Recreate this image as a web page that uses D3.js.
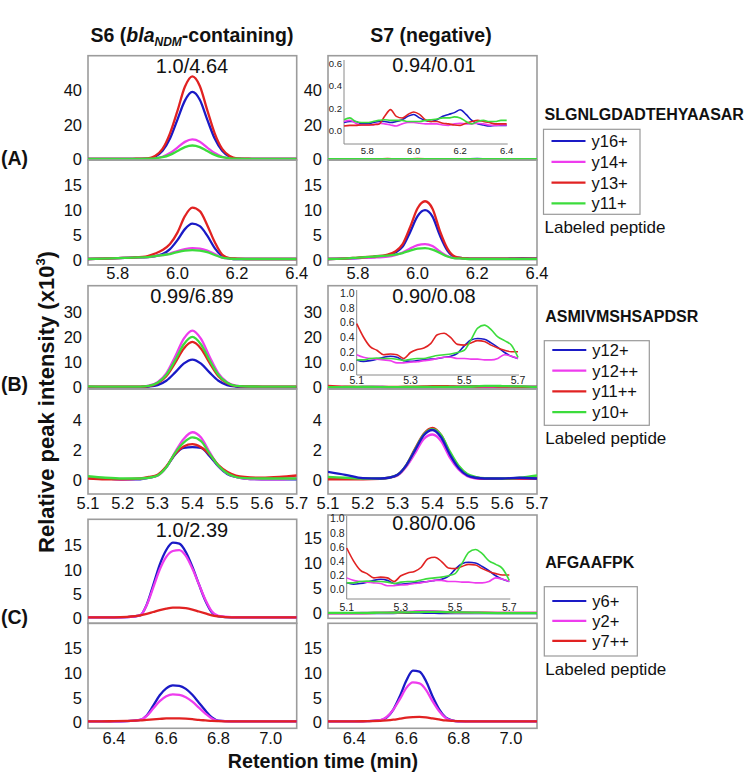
<!DOCTYPE html>
<html><head><meta charset="utf-8">
<script src="https://cdn.jsdelivr.net/npm/d3@7"></script>
<style>body{margin:0;background:#fff;} svg{display:block;font-family:"Liberation Sans",Arial,sans-serif;}</style>
</head><body><svg id="c" width="750" height="780"></svg>
<script>
// ---------------- DATA ----------------
// Row A : SLGNLGDADTEHYAASAR
const xA = [5.70,5.75,5.80,5.85,5.90,5.925,5.95,5.975,6.00,6.025,6.05,6.075,6.10,6.125,6.15,6.175,6.20,6.25,6.30,6.35,6.40];
const aS6TopY16 = [0.2,0.2,0.2,0.2,0.4,1.5,4.9,12,23,34,39,34.5,23,12,4.9,1.5,0.4,0.2,0.2,0.2,0.2];
const aS6TopY14 = [0.2,0.2,0.2,0.2,0.3,0.6,1.5,3.6,6.8,10.1,11.5,10.2,6.8,3.6,1.5,0.6,0.3,0.2,0.2,0.2,0.2];
const aS6TopY13 = [0.2,0.2,0.2,0.3,0.5,1.9,6,15,28,42,48,42.5,28.5,15,6,1.9,0.5,0.3,0.2,0.2,0.2];
const aS6TopY11 = [0.3,0.3,0.3,0.3,0.4,0.6,1.2,2.6,4.8,7.1,8,7.1,4.8,2.6,1.2,0.6,0.4,0.3,0.3,0.3,0.3];
const aS6LabY16 = [0.2,0.3,0.4,0.5,0.6,0.8,1.2,2.2,4.0,6.2,7.3,6.8,4.9,2.4,0.8,0.3,0.2,0.2,0.2,0.2,0.2];
const aS6LabY14 = [0.2,0.3,0.4,0.5,0.6,0.8,1.0,1.3,1.8,2.2,2.4,2.3,1.9,1.2,0.5,0.3,0.2,0.2,0.2,0.2,0.2];
const aS6LabY13 = [0.2,0.3,0.4,0.5,0.8,1.3,2.0,3.2,5.5,8.8,10.5,9.8,7.0,3.6,1.1,0.4,0.3,0.2,0.2,0.2,0.2];
const aS6LabY11 = [0.2,0.3,0.4,0.5,0.6,0.8,1.0,1.2,1.6,1.9,2.0,1.9,1.6,1.0,0.5,0.3,0.2,0.2,0.2,0.2,0.2];
const aS7LabY16 = [0.2,0.3,0.4,0.6,0.9,1.5,2.7,5.6,8.8,10.0,8.7,4.9,1.9,0.6,0.4,0.3,0.3,0.3,0.3,0.4,0.3];
const aS7LabY14 = [0.2,0.3,0.4,0.5,0.7,1.0,1.5,2.3,3.0,3.2,2.8,1.7,0.8,0.4,0.3,0.2,0.2,0.2,0.2,0.2,0.2];
const aS7LabY13 = [0.2,0.3,0.5,0.7,1.1,1.7,3.2,6.6,10.4,11.8,10.3,5.8,2.3,0.7,0.4,0.3,0.3,0.3,0.3,0.3,0.3];
const aS7LabY11 = [0.2,0.3,0.5,0.7,0.9,1.1,1.4,1.9,2.3,2.4,2.1,1.4,0.7,0.35,0.3,0.2,0.2,0.2,0.2,0.2,0.2];
// S7 native (inset A, also the flat traces of the main panel)
const xAi = [5.700,5.725,5.750,5.775,5.800,5.825,5.850,5.875,5.900,5.925,5.950,5.975,6.000,6.025,6.050,6.075,6.100,6.125,6.150,6.175,6.200,6.225,6.250,6.275,6.300,6.325,6.350,6.375,6.400];
const aS7TopY16 = [0.075,0.084,0.084,0.063,0.063,0.075,0.084,0.084,0.075,0.084,0.1,0.131,0.147,0.116,0.094,0.084,0.1,0.131,0.147,0.163,0.188,0.147,0.094,0.063,0.053,0.044,0.05,0.05,0.05];
const aS7TopY14 = [0.084,0.094,0.069,0.053,0.053,0.053,0.069,0.063,0.053,0.044,0.063,0.075,0.075,0.069,0.063,0.063,0.063,0.053,0.05,0.063,0.069,0.063,0.063,0.069,0.063,0.053,0.05,0.053,0.053];
const aS7TopY13 = [0.044,0.05,0.05,0.053,0.053,0.056,0.06,0.13,0.19,0.13,0.115,0.147,0.169,0.147,0.1,0.084,0.084,0.069,0.063,0.053,0.05,0.069,0.084,0.094,0.084,0.075,0.063,0.063,0.063];
const aS7TopY11 = [0.1,0.116,0.084,0.075,0.075,0.084,0.094,0.1,0.094,0.094,0.094,0.084,0.084,0.084,0.094,0.1,0.106,0.116,0.116,0.125,0.116,0.084,0.063,0.084,0.094,0.084,0.084,0.094,0.094];

// Row B : ASMIVMSHSAPDSR
const xB = [5.10,5.15,5.20,5.25,5.275,5.30,5.325,5.35,5.375,5.40,5.425,5.45,5.475,5.50,5.525,5.55,5.60,5.65,5.70];
const bS6TopY12 = [0.1,0.1,0.1,0.1,0.3,0.9,2.6,5.8,9.4,11,9.4,5.8,2.6,0.9,0.3,0.1,0.1,0.1,0.1];
const bS6TopY12pp = [0.3,0.3,0.3,0.3,0.7,2.0,5.5,12,19.2,22.5,19.2,12,5.5,2.0,0.7,0.4,0.3,0.3,0.3];
const bS6TopY11pp = [0.3,0.3,0.3,0.3,0.5,1.6,4.4,9.6,15.3,18,15.3,9.6,4.4,1.6,0.5,0.4,0.3,0.3,0.3];
const bS6TopY10 = [0.4,0.3,0.3,0.3,0.6,1.8,4.9,10.6,17,20,17,10.6,4.9,1.8,0.6,0.4,0.3,0.3,0.3];
const bS6LabY12 = [0.15,0.1,0.05,0.05,0.15,0.3,0.85,1.7,2.15,2.2,2.15,1.6,0.9,0.4,0.2,0.1,0.05,0.05,0.05];
const bS6LabY12pp = [0.15,0.1,0.05,0.08,0.15,0.3,0.85,1.85,2.75,3.2,2.85,1.85,0.95,0.45,0.2,0.1,0.05,0.05,0.1];
const bS6LabY11pp = [0.1,0.05,0.05,0.1,0.2,0.35,0.9,1.75,2.25,2.4,2.2,1.7,1.0,0.55,0.3,0.2,0.15,0.2,0.3];
const bS6LabY10 = [0.25,0.15,0.1,0.1,0.15,0.3,0.85,1.8,2.5,2.85,2.6,1.75,0.95,0.45,0.2,0.12,0.1,0.1,0.1];
const bS7LabY12 = [0.55,0.35,0.12,0.1,0.15,0.35,1.0,2.0,3.0,3.35,2.85,1.7,0.8,0.3,0.15,0.1,0.1,0.15,0.1];
const bS7LabY12pp = [0.15,0.1,0.08,0.08,0.15,0.3,0.9,1.8,2.75,3.05,2.6,1.5,0.7,0.25,0.1,0.08,0.08,0.08,0.08];
const bS7LabY11pp = [0.05,0.05,0.05,0.08,0.15,0.35,1.0,2.1,3.1,3.5,3.0,1.8,0.9,0.35,0.15,0.1,0.08,0.1,0.1];
const bS7LabY10 = [0.2,0.15,0.1,0.1,0.15,0.35,1.0,2.05,3.05,3.4,3.0,1.9,0.95,0.4,0.2,0.12,0.1,0.15,0.3];
// S7 native (insets B and C, flat traces of B main panel)
const xBi = [5.100,5.125,5.150,5.175,5.200,5.225,5.250,5.275,5.300,5.325,5.350,5.375,5.400,5.425,5.450,5.475,5.500,5.525,5.550,5.575,5.600,5.625,5.650,5.675,5.700];
const bS7TopY12 = [0.1,0.08,0.09,0.11,0.135,0.15,0.135,0.09,0.08,0.09,0.1,0.11,0.12,0.135,0.15,0.19,0.29,0.37,0.39,0.38,0.33,0.27,0.2,0.15,0.12];
const bS7TopY12pp = [0.17,0.135,0.12,0.11,0.1,0.09,0.06,0.06,0.07,0.075,0.09,0.1,0.12,0.135,0.135,0.12,0.12,0.11,0.11,0.1,0.1,0.12,0.17,0.15,0.12];
const bS7TopY11pp = [0.59,0.41,0.28,0.23,0.17,0.18,0.17,0.12,0.2,0.24,0.26,0.32,0.44,0.46,0.4,0.31,0.3,0.33,0.36,0.35,0.3,0.26,0.23,0.21,0.21];
const bS7TopY10 = [0.1,0.1,0.12,0.125,0.12,0.12,0.11,0.09,0.11,0.12,0.12,0.14,0.16,0.17,0.18,0.2,0.23,0.37,0.53,0.57,0.51,0.41,0.36,0.3,0.135];

// Row C : AFGAAFPK
const xC = [6.30,6.35,6.40,6.45,6.50,6.525,6.55,6.575,6.60,6.625,6.65,6.675,6.70,6.725,6.75,6.775,6.80,6.85,6.90,7.00,7.10];
const cS6TopY6 = [0.2,0.2,0.2,0.25,0.6,2.8,6.8,11.0,14.0,15.5,15.3,13.6,10.6,7.0,3.6,1.2,0.4,0.2,0.2,0.2,0.2];
const cS6TopY2 = [0.2,0.2,0.2,0.25,0.6,2.7,6.3,10.0,12.6,13.8,14.0,12.8,10.2,7.0,3.8,1.4,0.5,0.25,0.2,0.2,0.2];
const cS6TopY7 = [0.2,0.2,0.2,0.3,0.6,0.9,1.3,1.7,2.0,2.2,2.2,2.1,1.8,1.4,1.0,0.6,0.4,0.2,0.2,0.2,0.2];
const cS6LabY6 = [0.2,0.2,0.2,0.25,0.5,1.4,3.4,5.5,6.9,7.5,7.4,6.8,5.6,4.0,2.4,1.0,0.35,0.2,0.2,0.2,0.2];
const cS6LabY2 = [0.2,0.2,0.2,0.25,0.5,1.3,2.8,4.3,5.3,5.7,5.6,5.1,4.2,3.0,1.8,0.8,0.3,0.2,0.2,0.2,0.2];
const cS6LabY7 = [0.2,0.2,0.25,0.3,0.4,0.5,0.6,0.7,0.8,0.8,0.8,0.75,0.65,0.5,0.4,0.3,0.25,0.2,0.2,0.2,0.2];
const cS7TopY6 = [0.05,0.05,0.05,0.05,0.05,0.05,0.06,0.08,0.1,0.12,0.12,0.1,0.08,0.06,0.05,0.05,0.05,0.05,0.05,0.05,0.05];
const cS7TopY2 = [0.05,0.05,0.05,0.08,0.1,0.12,0.15,0.2,0.28,0.35,0.42,0.45,0.42,0.35,0.28,0.2,0.15,0.12,0.1,0.1,0.1];
const cS7TopY7 = [0.05,0.05,0.05,0.05,0.08,0.1,0.12,0.15,0.2,0.25,0.3,0.32,0.3,0.28,0.25,0.22,0.2,0.15,0.12,0.1,0.1];
const cS7TopOther = [0.1,0.1,0.1,0.1,0.12,0.12,0.15,0.18,0.2,0.22,0.25,0.28,0.3,0.28,0.25,0.2,0.18,0.15,0.1,0.05,0.05];
const cS7LabY6 = [0.2,0.2,0.2,0.25,0.4,1.0,2.6,5.3,8.5,10.5,10.3,8.4,5.3,2.7,1.0,0.4,0.2,0.2,0.2,0.2,0.2];
const cS7LabY2 = [0.2,0.2,0.2,0.25,0.45,1.1,2.6,4.7,7.0,8.1,7.9,6.6,4.3,2.3,0.9,0.35,0.2,0.2,0.2,0.2,0.2];
const cS7LabY7 = [0.2,0.2,0.2,0.25,0.3,0.4,0.55,0.75,0.95,1.05,1.1,1.0,0.8,0.6,0.4,0.3,0.25,0.2,0.2,0.2,0.2];

// labels / ticks
const ratiosA = ["1.0/4.64","0.94/0.01"];
const ratiosB = ["0.99/6.89","0.90/0.08"];
const ratiosC = ["1.0/2.39","0.80/0.06"];
const peptides = ["SLGNLGDADTEHYAASAR","ASMIVMSHSAPDSR","AFGAAFPK"];
const legendA = ["y16+","y14+","y13+","y11+"];
const legendB = ["y12+","y12++","y11++","y10+"];
const legendC = ["y6+","y2+","y7++"];
const xTicksA = [5.8,6.0,6.2,6.4], xTicksB = [5.1,5.2,5.3,5.4,5.5,5.6,5.7], xTicksC = [6.4,6.6,6.8,7.0];
const insetXTicksA = [5.8,6.0,6.2,6.4], insetXTicksB = [5.1,5.3,5.5,5.7];
const insetYTicksA = [0,0.2,0.4,0.6], insetYTicksB = [0,0.2,0.4,0.6,0.8,1.0];

// ---------------- DRAW ----------------
const C = {blue:"#1a1ac6", mag:"#ee3cee", red:"#e12222", green:"#3cdc3c"};
const svg = d3.select("#c");
const col = [{x0:88, x1:296.7}, {x0:328, x1:537}];
const TICKFS = 16.5;
let clipId = 0;

function panel(o){
  const xs = d3.scaleLinear().domain(o.xdom).range([o.x0, o.x1]);
  const ys = d3.scaleLinear().domain(o.ydom).range([o.y1, o.y0]);
  const g = svg.append("g");
  const id = "cl" + (clipId++);
  g.append("clipPath").attr("id", id).append("rect")
    .attr("x", o.x0).attr("y", o.y0 - 1).attr("width", o.x1 - o.x0).attr("height", o.y1 - o.y0 + 1);
  g.append("rect").attr("x", o.x0).attr("y", o.y0).attr("width", o.x1 - o.x0).attr("height", o.y1 - o.y0)
    .attr("fill", "none").attr("stroke", "#9c9c9c").attr("stroke-width", 1.6);
  g.selectAll("text.yt").data(o.yticks).enter().append("text")
    .attr("x", o.x0 - 6).attr("y", d => ys(d) + 6).attr("text-anchor", "end")
    .attr("font-size", TICKFS).attr("fill", "#111").text(d => d);
  const line = d3.line().x(d => xs(d[0])).y(d => ys(d[1])).curve(d3.curveMonotoneX);
  const lg = g.append("g").attr("clip-path", `url(#${id})`);
  o.series.forEach(s => {
    lg.append("path").attr("d", line(o.xs.map((x, i) => [x, s.v[i]])))
      .attr("fill", "none").attr("stroke", s.c).attr("stroke-width", 2.3)
      .attr("stroke-linejoin", "round");
  });
  if (o.xticks) {
    g.selectAll("text.xt").data(o.xticks).enter().append("text")
      .attr("x", d => xs(d)).attr("y", o.y1 + o.xlab).attr("text-anchor", "middle")
      .attr("font-size", TICKFS).attr("fill", "#111").text(d => d3.format(".1f")(d));
  }
  return {xs, ys};
}

function inset(o){
  const xs = d3.scaleLinear().domain(o.xdom).range([o.x0, o.x1]);
  const ys = d3.scaleLinear().domain(o.ydom).range([o.y1, o.y0]);
  const g = svg.append("g");
  g.append("path").attr("d", `M${o.x0},${o.y0}V${o.y1}H${o.x1 + 1}`)
    .attr("fill", "none").attr("stroke", "#8a8a8a").attr("stroke-width", 1);
  g.selectAll("text.iy").data(o.yticks).enter().append("text")
    .attr("x", o.x0 - 2).attr("y", d => ys(d) + 3.5).attr("text-anchor", "end")
    .attr("font-size", o.fs).attr("fill", "#222").text(d => d3.format(".1f")(d));
  g.selectAll("text.ix").data(o.xticks).enter().append("text")
    .attr("x", d => xs(d)).attr("y", o.y1 + o.xlab).attr("text-anchor", "middle")
    .attr("font-size", o.fs).attr("fill", "#222").text(d => d3.format(".1f")(d));
  const line = d3.line().x(d => xs(d[0])).y(d => ys(d[1])).curve(d3.curveMonotoneX);
  o.series.forEach(s => {
    g.append("path").attr("d", line(o.xs.map((x, i) => [x, s.v[i]])))
      .attr("fill", "none").attr("stroke", s.c).attr("stroke-width", 1.6);
  });
}

function legend(o){
  const g = svg.append("g");
  g.append("rect").attr("x", o.x).attr("y", o.y).attr("width", o.w).attr("height", o.h)
    .attr("fill", "none").attr("stroke", "#999").attr("stroke-width", 1.2);
  o.items.forEach((t, i) => {
    const cy = o.cy0 + i * o.dy;
    g.append("line").attr("x1", o.x + 8).attr("x2", o.x + 42).attr("y1", cy).attr("y2", cy)
      .attr("stroke", o.colors[i]).attr("stroke-width", 2.2);
    g.append("text").attr("x", o.x + 48).attr("y", cy + 6).attr("font-size", 16.5).attr("fill", "#111").text(t);
  });
  svg.append("text").attr("x", o.x + 1).attr("y", o.peptY).attr("font-size", 16).attr("font-weight", "bold")
    .attr("fill", "#111").text(o.pept);
  svg.append("text").attr("x", o.x + 1).attr("y", o.labY).attr("font-size", 17).attr("fill", "#111").text("Labeled peptide");
}

// ---- Row A ----
panel({x0:col[0].x0, x1:col[0].x1, y0:55.7, y1:160, xdom:[5.7,6.4], ydom:[-0.4,60], yticks:[0,20,40], xs:xA,
  series:[{v:aS6TopY16,c:C.blue},{v:aS6TopY14,c:C.mag},{v:aS6TopY13,c:C.red},{v:aS6TopY11,c:C.green}]});
panel({x0:col[0].x0, x1:col[0].x1, y0:160, y1:265, xdom:[5.7,6.4], ydom:[-1.0,20.08], yticks:[0,5,10,15], xs:xA,
  series:[{v:aS6LabY16,c:C.blue},{v:aS6LabY14,c:C.mag},{v:aS6LabY13,c:C.red},{v:aS6LabY11,c:C.green}],
  xticks:xTicksA, xlab:14});
panel({x0:col[1].x0, x1:col[1].x1, y0:55.7, y1:160, xdom:[5.7,6.4], ydom:[-0.4,60], yticks:[0,20,40], xs:xAi,
  series:[{v:aS7TopY16,c:C.blue},{v:aS7TopY14,c:C.mag},{v:aS7TopY13,c:C.red},{v:aS7TopY11,c:C.green}]});
panel({x0:col[1].x0, x1:col[1].x1, y0:160, y1:265, xdom:[5.7,6.4], ydom:[-1.0,20.08], yticks:[0,5,10,15], xs:xA,
  series:[{v:aS7LabY16,c:C.blue},{v:aS7LabY14,c:C.mag},{v:aS7LabY13,c:C.red},{v:aS7LabY11,c:C.green}],
  xticks:xTicksA, xlab:14});
inset({x0:344, x1:506.7, y0:60, y1:144, xdom:[5.7,6.4], ydom:[-0.116,0.631], xs:xAi,
  yticks:insetYTicksA, xticks:insetXTicksA, fs:9.5, xlab:10,
  series:[{v:aS7TopY16,c:C.blue},{v:aS7TopY14,c:C.mag},{v:aS7TopY13,c:C.red},{v:aS7TopY11,c:C.green}]});

// ---- Row B ----
panel({x0:col[0].x0, x1:col[0].x1, y0:285.7, y1:389, xdom:[5.1,5.7], ydom:[-0.67,40.3], yticks:[0,10,20,30], xs:xB,
  series:[{v:bS6TopY12,c:C.blue},{v:bS6TopY12pp,c:C.mag},{v:bS6TopY11pp,c:C.red},{v:bS6TopY10,c:C.green}]});
panel({x0:col[0].x0, x1:col[0].x1, y0:389, y1:494, xdom:[5.1,5.7], ydom:[-0.94,6.1], yticks:[0,2,4], xs:xB,
  series:[{v:bS6LabY12,c:C.blue},{v:bS6LabY12pp,c:C.mag},{v:bS6LabY11pp,c:C.red},{v:bS6LabY10,c:C.green}],
  xticks:xTicksB, xlab:15});
panel({x0:col[1].x0, x1:col[1].x1, y0:285.7, y1:389, xdom:[5.1,5.7], ydom:[-0.67,40.3], yticks:[0,10,20,30], xs:xBi,
  series:[{v:bS7TopY12,c:C.blue},{v:bS7TopY12pp,c:C.mag},{v:bS7TopY11pp,c:C.red},{v:bS7TopY10,c:C.green}]});
panel({x0:col[1].x0, x1:col[1].x1, y0:389, y1:494, xdom:[5.1,5.7], ydom:[-0.94,6.1], yticks:[0,2,4], xs:xB,
  series:[{v:bS7LabY12pp,c:C.mag},{v:bS7LabY11pp,c:C.red},{v:bS7LabY10,c:C.green},{v:bS7LabY12,c:C.blue}],
  xticks:xTicksB, xlab:15});
inset({x0:356.7, x1:518, y0:290, y1:375, xdom:[5.1,5.7], ydom:[-0.104,1.045], xs:xBi,
  yticks:insetYTicksB, xticks:insetXTicksB, fs:10.5, xlab:9,
  series:[{v:bS7TopY12,c:C.blue},{v:bS7TopY12pp,c:C.mag},{v:bS7TopY11pp,c:C.red},{v:bS7TopY10,c:C.green}]});

// ---- Row C ----
panel({x0:col[0].x0, x1:col[0].x1, y0:519.3, y1:623.3, xdom:[6.3,7.1], ydom:[-1.02,20.3], yticks:[0,5,10,15], xs:xC,
  series:[{v:cS6TopY6,c:C.blue},{v:cS6TopY2,c:C.mag},{v:cS6TopY7,c:C.red}]});
panel({x0:col[0].x0, x1:col[0].x1, y0:623.3, y1:728.3, xdom:[6.3,7.1], ydom:[-1.2,20.1], yticks:[0,5,10,15], xs:xC,
  series:[{v:cS6LabY6,c:C.blue},{v:cS6LabY2,c:C.mag},{v:cS6LabY7,c:C.red}],
  xticks:xTicksC, xlab:16});
panel({x0:col[1].x0, x1:col[1].x1, y0:515, y1:618.3, xdom:[6.3,7.1], ydom:[-1.0,19.7], yticks:[0,5,10,15], xs:xC,
  series:[{v:cS7TopY6,c:C.blue},{v:cS7TopY7,c:C.red},{v:cS7TopY2,c:C.mag},{v:cS7TopOther,c:C.green}]});
panel({x0:col[1].x0, x1:col[1].x1, y0:623.3, y1:728.3, xdom:[6.3,7.1], ydom:[-1.2,20.1], yticks:[0,5,10,15], xs:xC,
  series:[{v:cS7LabY6,c:C.blue},{v:cS7LabY2,c:C.mag},{v:cS7LabY7,c:C.red}],
  xticks:xTicksC, xlab:16});
inset({x0:346.7, x1:509.3, y0:516, y1:599, xdom:[5.1,5.7], ydom:[-0.127,1.04], xs:xBi,
  yticks:insetYTicksB, xticks:insetXTicksB, fs:10.5, xlab:12,
  series:[{v:bS7TopY12,c:C.blue},{v:bS7TopY12pp,c:C.mag},{v:bS7TopY11pp,c:C.red},{v:bS7TopY10,c:C.green}]});

// ratio annotations
[[ratiosA,[73,72]],[ratiosB,[303,303]],[ratiosC,[537,530]]].forEach(([r, ys]) => {
  svg.append("text").attr("x", 192).attr("y", ys[0]).attr("text-anchor", "middle").attr("font-size", 20).attr("fill", "#111").text(r[0]);
  svg.append("text").attr("x", 434).attr("y", ys[1]).attr("text-anchor", "middle").attr("font-size", 20).attr("fill", "#111").text(r[1]);
});

// legends
legend({x:543.5, y:129.3, w:96.5, h:85, cy0:141, dy:20.8, items:legendA, colors:[C.blue,C.mag,C.red,C.green],
  pept:peptides[0], peptY:120, labY:233});
legend({x:544.3, y:340.7, w:105, h:84.6, cy0:350, dy:20.7, items:legendB, colors:[C.blue,C.mag,C.red,C.green],
  pept:peptides[1], peptY:321.5, labY:443.5});
legend({x:544.3, y:586.7, w:93, h:69.3, cy0:601, dy:19.9, items:legendC, colors:[C.blue,C.mag,C.red],
  pept:peptides[2], peptY:568, labY:675});

// column headers
const h1 = svg.append("text").attr("x", 192).attr("y", 42).attr("text-anchor", "middle")
  .attr("font-size", 19.5).attr("font-weight", "bold").attr("fill", "#111");
h1.append("tspan").text("S6 (");
h1.append("tspan").attr("font-style", "italic").text("bla");
h1.append("tspan").attr("font-style", "italic").attr("font-size", 12).attr("dy", 4).text("NDM");
h1.append("tspan").attr("dy", -4).text("-containing)");
svg.append("text").attr("x", 431).attr("y", 42).attr("text-anchor", "middle")
  .attr("font-size", 19.5).attr("font-weight", "bold").attr("fill", "#111").text("S7 (negative)");

// row labels
[["(A)",165],["(B)",391],["(C)",624]].forEach(([t, y]) => {
  svg.append("text").attr("x", 1).attr("y", y).attr("font-size", 19.5).attr("font-weight", "bold").attr("fill", "#111").text(t);
});

// axis titles
const yl = svg.append("text").attr("transform", "translate(54,402) rotate(-90)").attr("text-anchor", "middle")
  .attr("font-size", 22).attr("font-weight", "bold").attr("fill", "#111");
yl.append("tspan").text("Relative peak intensity (x10");
yl.append("tspan").attr("font-size", 13).attr("dy", -9).text("3");
yl.append("tspan").attr("dy", 9).text(")");
svg.append("text").attr("x", 323).attr("y", 768).attr("text-anchor", "middle")
  .attr("font-size", 19.7).attr("font-weight", "bold").attr("fill", "#111").text("Retention time (min)");
</script></body></html>
